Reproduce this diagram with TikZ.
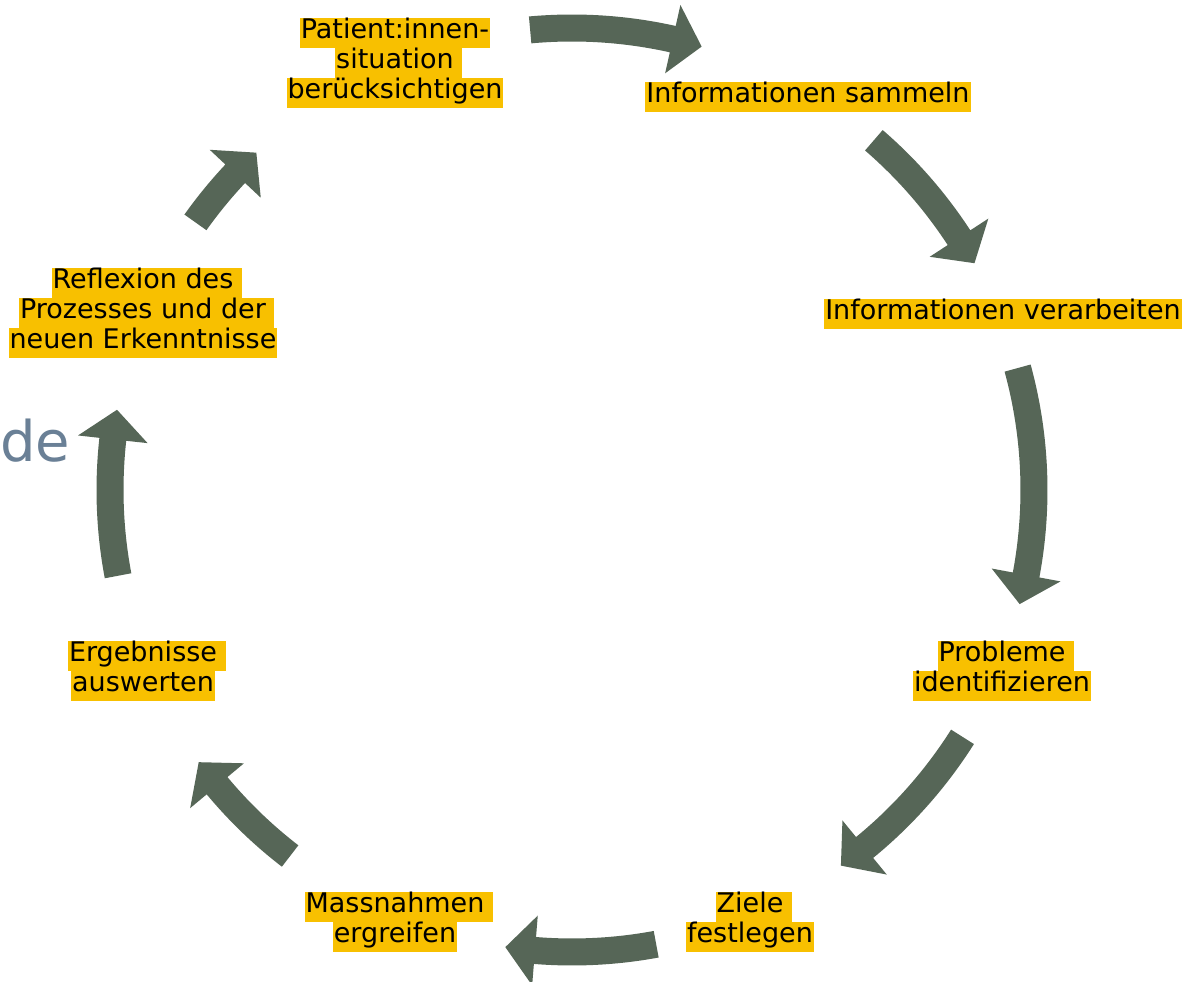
\documentclass[tikz,border=0pt]{standalone}
\usepackage{fontspec}
\setmainfont{DejaVu Sans}
\definecolor{hlyellow}{RGB}{248,192,0}
\definecolor{arrowgrey}{RGB}{86,102,87}
\definecolor{slateblue}{RGB}{106,128,150}
\setlength{\fboxsep}{0pt}
% highlighted line, and one with a highlighted trailing space
\newcommand{\hl}[1]{\colorbox{hlyellow}{\rule[-9pt]{0pt}{30pt}\kern1pt#1\kern1pt}}
\newcommand{\hlsp}[1]{\hl{#1}\rlap{\kern-1pt\colorbox{hlyellow}{\rule[-9pt]{0pt}{30pt}\ }}}
% curved block arrow on the cycle: start angle, tip angle
\newcommand{\cyclearrow}[2]{%
  \fill[arrowgrey] (#1:475.5) arc[start angle=#1, end angle={#2+3.7}, radius=475.5]
    -- ({#2+3.7}:497) -- (#2:462) -- ({#2+3.7}:427) -- ({#2+3.7}:448.5)
    arc[start angle={#2+3.7}, end angle=#1, radius=448.5] -- cycle;}

\begin{document}
\begin{tikzpicture}[x=1pt, y=1pt,
  phase/.style={inner sep=0pt, align=center, font=\fontsize{27pt}{30pt}\selectfont}]

\fill[white] (0,0) rectangle (1187,982);
\useasboundingbox (0,0) rectangle (1187,982);

% Nodes (phases)
\node[phase] (patient) at (395, 919) {\hl{Patient:innen-}\\\hlsp{situation}\\\hl{berücksichtigen}};
\node[phase] (sammeln) at (808, 885) {\hl{Informationen sammeln}};
\node[phase] (verarbeiten) at (1003, 668) {\hl{Informationen verarbeiten}};
\node[phase] (probleme) at (1002, 311) {\hlsp{Probleme}\\\hl{identifizieren}};
\node[phase] (ziele) at (750, 60) {\hlsp{Ziele}\\\hl{festlegen}};
\node[phase] (massnahmen) at (395, 60) {\hlsp{Massnahmen}\\\hl{ergreifen}};
\node[phase] (ergebnisse) at (143, 311) {\hlsp{Ergebnisse}\\\hl{auswerten}};
\node[phase] (reflexion) at (143, 669) {\hlsp{Reflexion des}\\\hlsp{Prozesses und der}\\\hl{neuen Erkenntnisse}};

% Leftover title text
\node[anchor=base west, inner sep=0pt, text=slateblue, font=\fontsize{56pt}{62pt}\selectfont] (title) at (0, 520) {de};

% Arrows round the cycle
\begin{scope}[shift={(572, 492)}]
\cyclearrow{95.2}{73.7}
\cyclearrow{49.2}{29.4}
\cyclearrow{15.3}{-14.3}
\cyclearrow{-32.3}{-54.4}
\cyclearrow{-79.5}{-98.3}
\cyclearrow{-127.6}{-143.9}
\cyclearrow{-169.3}{-190}
\cyclearrow{144.6}{133.1}
\end{scope}

\end{tikzpicture}
\end{document}
